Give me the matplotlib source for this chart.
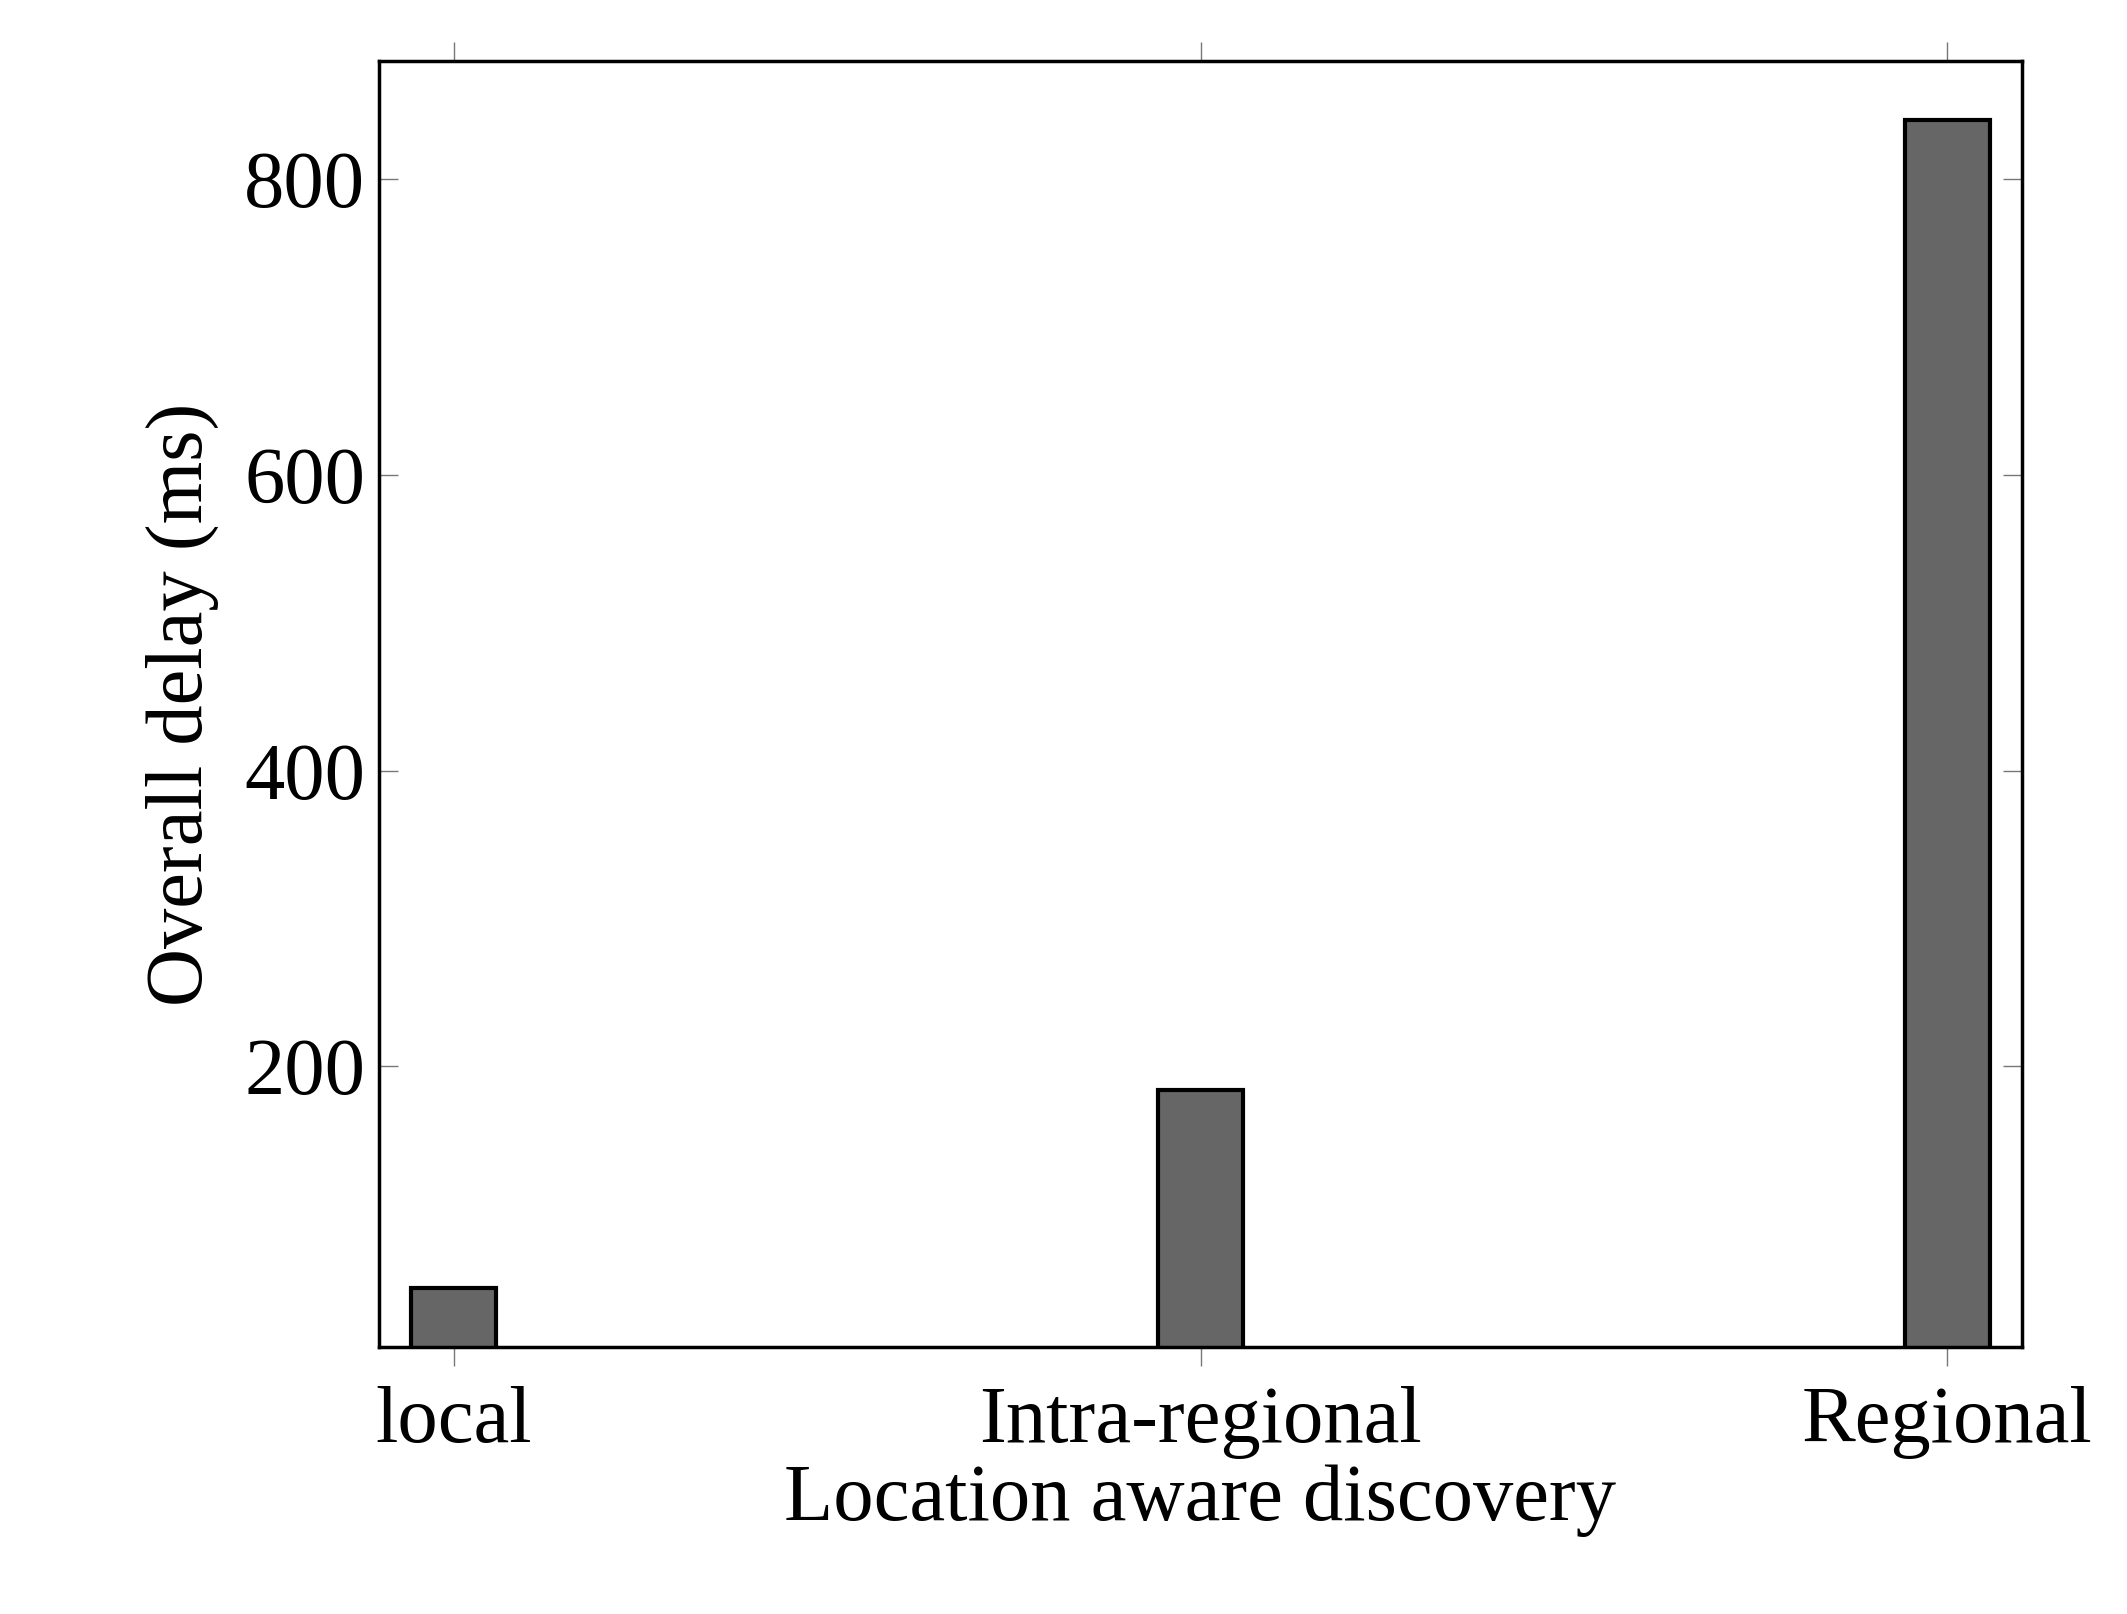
import matplotlib.pyplot as plt

categories = ["local", "Intra-regional", "Regional"]
delays = [50, 184, 840]

plt.rcParams['font.family'] = ['Liberation Serif', 'DejaVu Serif']
plt.rcParams['mathtext.fontset'] = 'dejavuserif'

fig = plt.figure(figsize=(21.27, 16.14), dpi=100)
ax = fig.add_axes([379 / 2127, 1 - 1347 / 1614, (2022 - 379) / 2127, (1347 - 61) / 1614])

x = list(range(len(categories)))
ax.bar(x, delays, width=0.113, color='#666666', edgecolor='black', linewidth=3)

ax.set_xlim(-0.1, 2.1)
ax.set_ylim(10, 880)
ax.set_xticks(x)
ax.set_xticklabels(categories)
ax.set_yticks([200, 400, 600, 800])
ax.tick_params(axis='x', direction='out', top=True, length=14, width=1, color='#777777', labelsize=58, pad=14)
ax.tick_params(axis='y', direction='in', right=True, length=14, width=1, color='#777777', labelsize=58, pad=10)
for s in ax.spines.values():
    s.set_linewidth(2.5)

ax.set_xlabel("Location aware discovery", fontsize=58, labelpad=4)
ax.set_ylabel("Overall delay (ms)", fontsize=58, labelpad=18)

fig.savefig("out.png", dpi=100)
